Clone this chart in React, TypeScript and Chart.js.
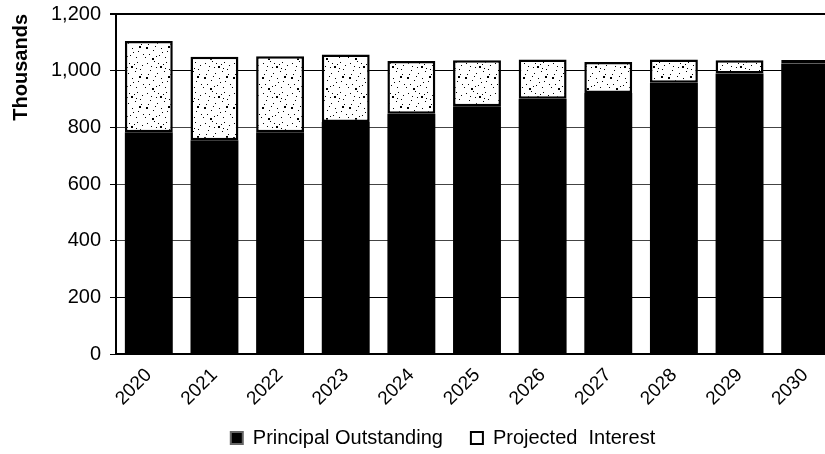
import React, { useEffect, useRef } from "react";
import { Chart, registerables } from "chart.js";

Chart.register(...registerables);

const years = ["2020", "2021", "2022", "2023", "2024", "2025", "2026", "2027", "2028", "2029", "2030"];
const principalOutstanding = [783, 754, 783, 819, 848, 874, 901, 921, 957, 990, 1025];
const projectedInterest = [322, 295, 268, 238, 186, 163, 138, 110, 82, 47, 13];
const yTicks = [0, 200, 400, 600, 800, 1000, 1200];

const FONT = "'Liberation Sans', Arial, sans-serif";

// fixed stipple dot layout for the pattern fill (style only)
const DOTS: [number, number, number][] = [
  [2, 3, 1], [9, 1, 1], [15, 6, 2], [21, 2, 1], [5, 10, 1], [12, 13, 1], [19, 11, 1],
  [1, 17, 2], [8, 20, 1], [16, 18, 1], [22, 21, 1], [4, 24, 1], [11, 7, 1], [25, 14, 1],
  [14, 25, 1], [20, 27, 1], [7, 28, 2], [26, 5, 1], [3, 14, 1], [18, 4, 1],
  [6, 6, 1], [24, 9, 1], [10, 16, 1], [27, 24, 1], [13, 3, 1], [17, 22, 1], [23, 16, 2],
  [0, 27, 1], [11, 26, 1], [20, 8, 1],
];

function makePattern(): CanvasPattern | string {
  const c = document.createElement("canvas");
  c.width = 29;
  c.height = 30;
  const g = c.getContext("2d");
  if (!g) return "#ffffff";
  g.fillStyle = "#ffffff";
  g.fillRect(0, 0, 29, 30);
  g.fillStyle = "#000000";
  for (const [x, y, s] of DOTS) g.fillRect(x, y, s, s);
  return g.createPattern(c, "repeat") || "#ffffff";
}

const legendShift = {
  id: "legendShift",
  afterLayout(chart: any) {
    const lg = chart.legend;
    if (lg) {
      lg.left += 24;
      lg.right += 24;
      lg.top -= 12;
      lg.bottom -= 12;
      if (typeof lg.adjustHitBoxes === "function") lg.adjustHitBoxes();
    }
  },
};

export default function App() {
  const ref = useRef<HTMLCanvasElement | null>(null);

  useEffect(() => {
    if (!ref.current) return;
    const chart = new Chart(ref.current, {
      type: "bar",
      plugins: [legendShift],
      data: {
        labels: years,
        datasets: [
          {
            label: "Principal Outstanding",
            data: principalOutstanding,
            backgroundColor: "#000000",
            borderColor: "#000000",
            borderWidth: 0,
            barPercentage: 0.73,
            categoryPercentage: 1,
          },
          {
            label: "Projected  Interest",
            data: projectedInterest,
            backgroundColor: makePattern() as any,
            borderColor: "#000000",
            borderWidth: 2.5,
            borderSkipped: false,
            barPercentage: 0.73,
            categoryPercentage: 1,
          },
        ],
      },
      options: {
        responsive: false,
        animation: false,
        maintainAspectRatio: false,
        layout: { padding: { top: 14, right: 44, left: 0, bottom: -16 } },
        plugins: {
          tooltip: { enabled: false },
          legend: {
            position: "bottom",
            labels: {
              color: "#000",
              font: { family: FONT, size: 20 },
              boxWidth: 12,
              boxHeight: 12,
              padding: 28,
              generateLabels: (ch: any) =>
                ch.data.datasets.map((ds: any, i: number) => ({
                  text: ds.label,
                  fillStyle: i === 0 ? "#000000" : "#ffffff",
                  strokeStyle: i === 0 ? "#666666" : "#000000",
                  lineWidth: 2,
                  datasetIndex: i,
                  hidden: false,
                  fontColor: "#000",
                })),
            },
          },
        },
        scales: {
          x: {
            stacked: true,
            grid: { display: false, drawTicks: true },
            border: { display: true, color: "#000", width: 2 },
            ticks: {
              color: "#000",
              font: { family: FONT, size: 19 },
              maxRotation: 45,
              minRotation: 45,
              padding: 2,
            },
            afterFit: (s: any) => {
              s.height = 58;
              s.paddingLeft = 0;
              s.paddingRight = 0;
            },
          },
          y: {
            stacked: true,
            min: 0,
            max: 1200,
            afterBuildTicks: (s: any) => {
              s.ticks = yTicks.map((v) => ({ value: v }));
            },
            grid: {
              color: (ctx: any) => {
                const v = ctx.tick ? ctx.tick.value : 0;
                return v === 1000 || v === 200 || v === 1200 ? "#000000" : "#444444";
              },
              lineWidth: (ctx: any) => (ctx.tick && ctx.tick.value === 1200 ? 2 : 1),
              tickLength: 6,
              tickColor: "#000",
            },
            border: { display: true, color: "#000", width: 2 },
            ticks: {
              color: "#000",
              font: { family: FONT, size: 20 },
              padding: 9,
              callback: (v: any) => Number(v).toLocaleString("en-US"),
            },
            title: {
              display: true,
              text: "Thousands",
              align: "end",
              color: "#000",
              font: { family: FONT, size: 20, weight: "bold" },
              padding: { top: 9, bottom: 0 },
            },
            afterFit: (s: any) => {
              s.width = 116;
              s.paddingTop = 0;
              s.paddingBottom = 0;
            },
          },
        },
      },
    });
    return () => chart.destroy();
  }, []);

  return (
    <div style={{ position: "fixed", left: 0, top: 0, width: 825, height: 454, overflow: "hidden", background: "#fff" }}>
      <canvas ref={ref} width={882} height={454} style={{ display: "block" }} />
    </div>
  );
}
